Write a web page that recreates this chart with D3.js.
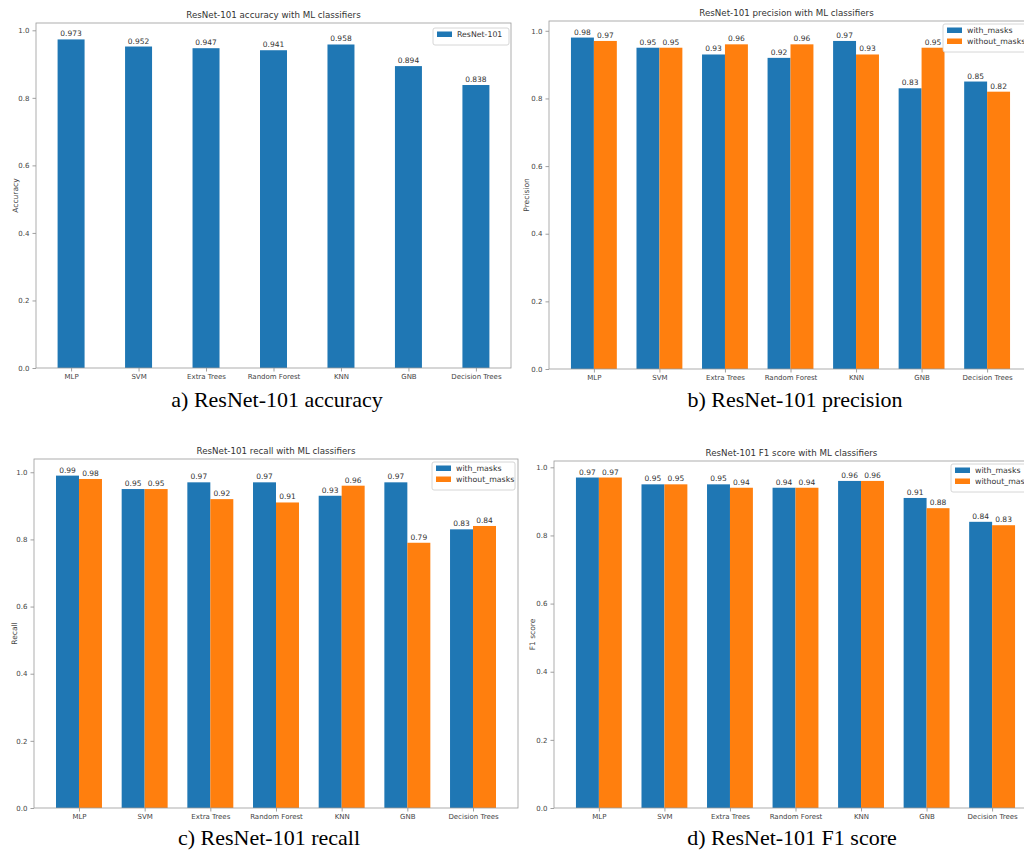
<!DOCTYPE html>
<html>
<head>
<meta charset="utf-8">
<script src="https://cdn.jsdelivr.net/npm/d3@7"></script>
<style>
  html, body { margin: 0; padding: 0; background: #fff; }
  svg { display: block; }
  .tick text { font-family: "DejaVu Sans", sans-serif; }
</style>
</head>
<body>
<svg id="fig" width="1024" height="851"></svg>
<script>
// Classifiers evaluated on ResNet-101 features
const classifiers = ["MLP", "SVM", "Extra Trees", "Random Forest", "KNN", "GNB", "Decision Trees"];

const accuracy = [0.973, 0.952, 0.947, 0.941, 0.958, 0.894, 0.838];

const precisionWithMasks    = [0.98, 0.95, 0.93, 0.92, 0.97, 0.83, 0.85];
const precisionWithoutMasks = [0.97, 0.95, 0.96, 0.96, 0.93, 0.95, 0.82];

const recallWithMasks    = [0.99, 0.95, 0.97, 0.97, 0.93, 0.97, 0.83];
const recallWithoutMasks = [0.98, 0.95, 0.92, 0.91, 0.96, 0.79, 0.84];

const f1WithMasks    = [0.97, 0.95, 0.95, 0.94, 0.96, 0.91, 0.84];
const f1WithoutMasks = [0.97, 0.95, 0.94, 0.94, 0.96, 0.88, 0.83];

const yTicks = [0.0, 0.2, 0.4, 0.6, 0.8, 1.0];

const BLUE = "#1f77b4", ORANGE = "#ff7f0e";

const svg = d3.select("#fig");
svg.append("rect").attr("width", 1024).attr("height", 851).attr("fill", "#fff");

const panels = [
  {
    title: "ResNet-101 accuracy with ML classifiers", ylabel: "Accuracy",
    caption: "a) ResNet-101 accuracy",
    series: [{ name: "ResNet-101", values: accuracy, color: BLUE, fmt: d3.format(".3f") }],
    barWidth: 0.4,
    box: { left: 36, right: 511, top: 23, bottom: 368 },
    ylabelX: 15, captionX: 277, captionY: 407,
    legend: { x: 433, y: 28, w: 76 }
  },
  {
    title: "ResNet-101 precision with ML classifiers", ylabel: "Precision",
    caption: "b) ResNet-101 precision",
    series: [
      { name: "with_masks", values: precisionWithMasks, color: BLUE, fmt: d3.format(".2f") },
      { name: "without_masks", values: precisionWithoutMasks, color: ORANGE, fmt: d3.format(".2f") }
    ],
    barWidth: 0.35,
    box: { left: 549, right: 1032, top: 21, bottom: 369 },
    ylabelX: 526, captionX: 795, captionY: 407,
    legend: { x: 943, y: 24, w: 86 }
  },
  {
    title: "ResNet-101 recall with ML classifiers", ylabel: "Recall",
    caption: "c) ResNet-101 recall",
    series: [
      { name: "with_masks", values: recallWithMasks, color: BLUE, fmt: d3.format(".2f") },
      { name: "without_masks", values: recallWithoutMasks, color: ORANGE, fmt: d3.format(".2f") }
    ],
    barWidth: 0.35,
    box: { left: 34, right: 518, top: 459, bottom: 808 },
    ylabelX: 14, captionX: 269, captionY: 845,
    legend: { x: 432, y: 462, w: 83 }
  },
  {
    title: "ResNet-101 F1 score with ML classifiers", ylabel: "F1 score",
    caption: "d) ResNet-101 F1 score",
    series: [
      { name: "with_masks", values: f1WithMasks, color: BLUE, fmt: d3.format(".2f") },
      { name: "without_masks", values: f1WithoutMasks, color: ORANGE, fmt: d3.format(".2f") }
    ],
    barWidth: 0.35,
    box: { left: 554, right: 1037, top: 461, bottom: 808 },
    ylabelX: 532, captionX: 792, captionY: 845,
    legend: { x: 951, y: 464, w: 86 }
  }
];

panels.forEach(p => {
  const n = classifiers.length;
  const k = p.series.length;
  const half = p.barWidth * k / 2;
  const span = (n - 1) + 2 * half;
  const pad = 0.05 * span;
  const x = d3.scaleLinear().domain([-half - pad, (n - 1) + half + pad]).range([p.box.left, p.box.right]);
  const ymax = d3.max(p.series, s => d3.max(s.values)) * 1.05;
  const y = d3.scaleLinear().domain([0, ymax]).range([p.box.bottom, p.box.top]);

  const g = svg.append("g");

  // bars and value labels
  p.series.forEach((s, si) => {
    const offset = (si - (k - 1) / 2) * p.barWidth;
    g.selectAll(null).data(s.values).enter().append("rect")
      .attr("x", (d, i) => x(i + offset - p.barWidth / 2))
      .attr("width", x(p.barWidth) - x(0))
      .attr("y", d => y(d))
      .attr("height", d => y(0) - y(d))
      .attr("fill", s.color);
    g.selectAll(null).data(s.values).enter().append("text")
      .attr("x", (d, i) => x(i + offset))
      .attr("y", d => y(d) - 3)
      .attr("text-anchor", "middle")
      .attr("font-family", "DejaVu Sans, sans-serif")
      .attr("font-size", 7.5)
      .attr("fill", "#333")
      .text(d => s.fmt(d));
  });

  // y axis
  const yAxis = g.append("g")
    .attr("transform", `translate(${p.box.left},0)`)
    .call(d3.axisLeft(y).tickValues(yTicks).tickFormat(d3.format(".1f")).tickSize(3.5).tickPadding(3));
  yAxis.select(".domain").remove();
  yAxis.selectAll(".tick line").attr("stroke", "#777").attr("stroke-width", 0.7);
  yAxis.selectAll(".tick text").attr("font-size", 7).attr("fill", "#444");

  // x axis
  const xAxis = g.append("g")
    .attr("transform", `translate(0,${p.box.bottom})`)
    .call(d3.axisBottom(x).tickValues(d3.range(n)).tickFormat(i => classifiers[i]).tickSize(3.5).tickPadding(2.5));
  xAxis.select(".domain").remove();
  xAxis.selectAll(".tick line").attr("stroke", "#777").attr("stroke-width", 0.7);
  xAxis.selectAll(".tick text").attr("font-size", 7).attr("fill", "#444");

  // frame
  g.append("rect")
    .attr("x", p.box.left).attr("y", p.box.top)
    .attr("width", p.box.right - p.box.left).attr("height", p.box.bottom - p.box.top)
    .attr("fill", "none").attr("stroke", "#999").attr("stroke-width", 0.8);

  // title
  g.append("text")
    .attr("x", (p.box.left + p.box.right) / 2 - (p.box.right > 1024 ? 4 : 0))
    .attr("y", p.box.top - 5)
    .attr("text-anchor", "middle")
    .attr("font-family", "DejaVu Sans, sans-serif")
    .attr("font-size", 8.7)
    .attr("fill", "#333")
    .text(p.title);

  // y label
  g.append("text")
    .attr("transform", `translate(${p.ylabelX},${(p.box.top + p.box.bottom) / 2}) rotate(-90)`)
    .attr("text-anchor", "middle")
    .attr("dy", "0.35em")
    .attr("font-family", "DejaVu Sans, sans-serif")
    .attr("font-size", 7.5)
    .attr("fill", "#444")
    .text(p.ylabel);

  // legend
  const lg = g.append("g").attr("transform", `translate(${p.legend.x},${p.legend.y})`);
  const rowH = 11;
  lg.append("rect")
    .attr("width", p.legend.w).attr("height", 6 + rowH * k)
    .attr("rx", 2)
    .attr("fill", "#fff").attr("stroke", "#ccc").attr("stroke-width", 0.8);
  p.series.forEach((s, si) => {
    lg.append("rect")
      .attr("x", 4).attr("y", 3.5 + si * rowH)
      .attr("width", 15).attr("height", 5.5)
      .attr("fill", s.color);
    lg.append("text")
      .attr("x", 24).attr("y", 6.3 + si * rowH)
      .attr("dy", "0.35em")
      .attr("font-family", "DejaVu Sans, sans-serif")
      .attr("font-size", 7.8)
      .attr("fill", "#333")
      .text(s.name);
  });

  // caption below the panel
  svg.append("text")
    .attr("x", p.captionX).attr("y", p.captionY)
    .attr("text-anchor", "middle")
    .attr("font-family", "Liberation Serif, Times New Roman, serif")
    .attr("font-size", 22)
    .attr("fill", "#000")
    .text(p.caption);
});
</script>
</body>
</html>
